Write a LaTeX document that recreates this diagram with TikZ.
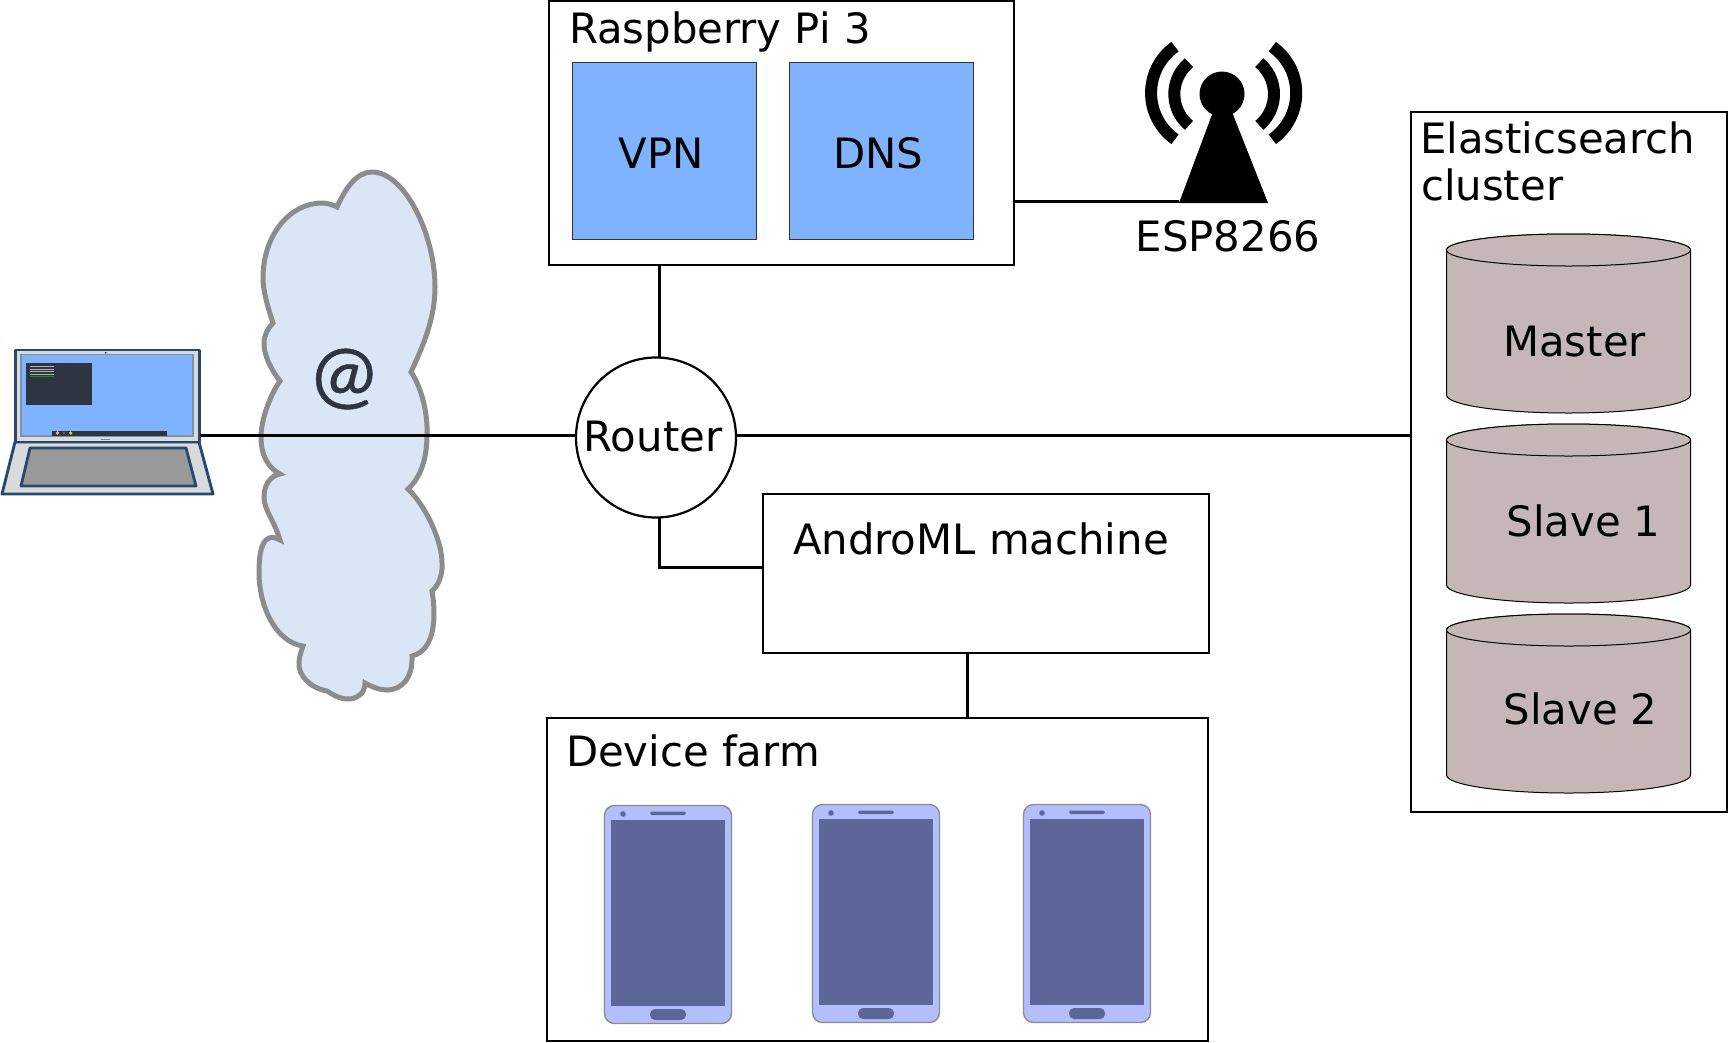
\documentclass[tikz,border=0pt]{standalone}
\usepackage{fontspec}
\setmainfont{DejaVu Sans}
\newfontfamily\atfont[FakeBold=0.6]{Lato}
\definecolor{svcblue}{HTML}{80B3FF}
\definecolor{dbfill}{HTML}{C5B7B7}
\definecolor{cloudfill}{HTML}{DAE6F6}
\definecolor{cloudline}{HTML}{8C8C8C}
\definecolor{navy}{HTML}{27496D}
\definecolor{lapgrey}{HTML}{D8DADC}
\definecolor{termdark}{HTML}{2E3440}
\definecolor{phonebody}{HTML}{B3BFFD}
\definecolor{phonedark}{HTML}{5C6698}
\newcommand{\bigtext}{\fontsize{41.8}{48}\selectfont}
\tikzset{
  box/.style={draw=black,line width=2.2pt,fill=white,inner sep=0pt,outer sep=0pt,anchor=north west},
  svcbox/.style={draw=black!80,line width=0.8pt,fill=svcblue,inner sep=0pt,outer sep=0pt,anchor=north west},
  txt/.style={inner sep=0pt,outer sep=0pt,font=\bigtext,text=black},
  link/.style={draw=black,line width=3pt},
  dbbody/.style={draw=black,line width=1pt,fill=dbfill},
  phoneshape/.style={draw=cloudline,line width=1.4pt,fill=phonebody,rounded corners=10pt},
  phonepart/.style={fill=phonedark,draw=none},
  lapline/.style={draw=navy,line width=2.9pt,fill=lapgrey,line join=round}
}
\newcommand{\dbcyl}[3]{%
  \begin{scope}[shift={(0,#1)}]
    \draw[dbbody] (1446.5,16) -- (1446.5,161)
      arc[start angle=180,end angle=360,x radius=122pt,y radius=18pt]
      -- (1690.5,16) arc[start angle=0,end angle=180,x radius=122pt,y radius=16pt] -- cycle;
    \draw[dbbody] (1568.5,16) ellipse[x radius=122pt,y radius=16pt];
  \end{scope}%
  \node[txt,anchor=base] (#2) at (#3) {#2};%
}
\newcommand{\phonedraw}[3]{%
  \begin{scope}[shift={(#1,#2)}]
    \node[phoneshape,minimum width=127pt,minimum height=218pt,inner sep=0pt,outer sep=0pt,anchor=north west] (#3) at (604.5,805.5) {};
    \fill[phonepart] (611,820) rectangle (725,1006);
    \fill[phonepart,rounded corners=1.7pt] (650,811.5) rectangle (686,815);
    \fill[phonepart] (623,814) circle[radius=2.8pt];
    \fill[phonepart,rounded corners=5pt] (650,1009) rectangle (686,1020);
  \end{scope}%
}
\begin{document}
\begin{tikzpicture}[x=1pt,y=-1pt]
\useasboundingbox (0,0) rectangle (1728,1042);

% cloud
\draw[draw=cloudline,fill=cloudfill,line width=5pt,line join=miter] (337,207)
  .. controls (346,187) and (357,172) .. (372,172)
  .. controls (405,172) and (435,235) .. (435,287)
  .. controls (435,320) and (422,348) .. (411,372)
  .. controls (420,385) and (428,410) .. (427,435)
  .. controls (427,460) and (420,478) .. (408,489)
  .. controls (425,505) and (442,540) .. (442,563)
  .. controls (443,575) and (438,586) .. (432,591)
  .. controls (436,615) and (436,650) .. (412,656)
  .. controls (413,680) and (400,690) .. (387,690)
  .. controls (380,690) and (372,687) .. (365,683)
  .. controls (365,695) and (355,699) .. (348,699)
  .. controls (340,699) and (333,695) .. (327,691)
  .. controls (310,688) and (298,675) .. (299,663)
  .. controls (299,657) and (301,652) .. (303,646)
  .. controls (275,642) and (259,605) .. (259,573)
  .. controls (259,552) and (262,530) .. (280,540)
  .. controls (274,520) and (264,510) .. (264,497)
  .. controls (264,485) and (270,476) .. (280,474)
  .. controls (268,468) and (261,455) .. (261,437)
  .. controls (261,420) and (270,395) .. (280,381)
  .. controls (270,368) and (264,355) .. (264,343)
  .. controls (264,335) and (268,328) .. (273,323)
  .. controls (267,305) and (263,290) .. (263,278)
  .. controls (263,235) and (290,203) .. (322,203)
  .. controls (328,203) and (333,205) .. (337,207) -- cycle;
\node[inner sep=0pt,font=\atfont\fontsize{76}{80}\selectfont,text=termdark] (at) at (344,379) {@};

% laptop
\draw[lapline] (15,442) -- (199,442) -- (213,494) -- (2,494) -- cycle;
\draw[draw=navy,line width=2.8pt,fill=black!40,line join=round] (30,448) -- (186,448) -- (196,486) -- (21,486) -- cycle;
\draw[lapline] (15.5,350) rectangle (199.5,442);
\draw[draw=navy!60,line width=1.4pt,fill=svcblue] (21,354.5) rectangle (193,436);
\fill[termdark] (26,363) rectangle (92,404.5);
\foreach \ly in {366,368.5,371,373.5}{\fill[black!30] (30,\ly) rectangle (54,\ly+1);}
\fill[green!60!black] (30,375.5) rectangle (54,376.5);
\fill[termdark] (52,430.5) rectangle (166.5,436);
\fill[orange!60] (57.5,433) circle[radius=1.8pt];
\fill[red!70] (64,433) circle[radius=1pt];
\fill[yellow!80!green] (70.7,433) circle[radius=1.8pt];
\fill[black] (105.7,352.7) circle[radius=0.9pt];
\fill[black!50] (101,438.5) rectangle (110,440);
\coordinate (laptop) at (200,435.7);

% main boxes
\node[box,minimum width=465pt,minimum height=264pt] (pi) at (549,1) {};
\node[svcbox,minimum width=184pt,minimum height=177pt] (vpnbox) at (572,62) {};
\node[svcbox,minimum width=184pt,minimum height=177pt] (dnsbox) at (789,62) {};
\node[txt,anchor=base west] (pilabel) at (569,43) {Raspberry Pi 3};
\node[txt,anchor=base] (vpn) at (661.5,168) {VPN};
\node[txt,anchor=base] (dns) at (878.5,168) {DNS};

\node[box,minimum width=446pt,minimum height=159pt] (andro) at (763,494) {};
\node[txt,anchor=base west] (androlabel) at (793,554.5) {AndroML machine};

\node[box,minimum width=661pt,minimum height=323pt] (farm) at (547,718) {};
\node[txt,anchor=base west] (farmlabel) at (566,766) {Device farm};

\node[box,minimum width=316pt,minimum height=700pt] (elastic) at (1411,112) {};
\node[txt,anchor=base west] (el1) at (1420,153) {Elasticsearch};
\node[txt,anchor=base west] (el2) at (1421,200) {cluster};

\dbcyl{234}{Master}{1574.5,356.5}
\dbcyl{424}{Slave 1}{1583.5,536}
\dbcyl{614}{Slave 2}{1580.5,724}

% phones
\phonedraw{0}{0}{phoneA}
\phonedraw{208}{-1}{phoneB}
\phonedraw{419}{-1}{phoneC}

% antenna
\fill[black] (1222,94) circle[radius=22.5pt];
\fill[black] (1213,112) -- (1232,112) -- (1268,203) -- (1179,203) -- cycle;
\coordinate (esp) at (1179,201);
\draw[line width=12pt] (1175,46.7) arc[start angle=125.3,end angle=234.7,radius=56.7pt];
\draw[line width=12pt] (1189,62.7) arc[start angle=129.7,end angle=230.3,radius=40.7pt];
\draw[line width=12pt] (1272.3,46.7) arc[start angle=54.7,end angle=-54.7,radius=56.7pt];
\draw[line width=12pt] (1259.3,62.7) arc[start angle=50.3,end angle=-50.3,radius=40.7pt];
\node[txt,anchor=base] (esplabel) at (1228,251) {ESP8266};

% router
\node[draw=black,line width=2.2pt,fill=white,circle,minimum size=160pt,inner sep=0pt,outer sep=0pt] (router) at (656,437.5) {};
\node[txt,anchor=base] (routerlabel) at (653,451) {Router};
\coordinate (routerright) at (736,435);

% connectors
\draw[link] (laptop) -- (router.west |- laptop);
\draw[link] (routerright) -- (elastic.west |- routerright);
\draw[link] ([xshift=3pt]router.north) -- ([xshift=3pt]router.north |- pi.south);
\draw[link] ([xshift=3pt]router.south) |- (andro.west |- 0,567.7);
\draw[link] (pi.east |- esp) -- (esp);
\draw[link] (967,653) -- (967,718);
\end{tikzpicture}
\end{document}
